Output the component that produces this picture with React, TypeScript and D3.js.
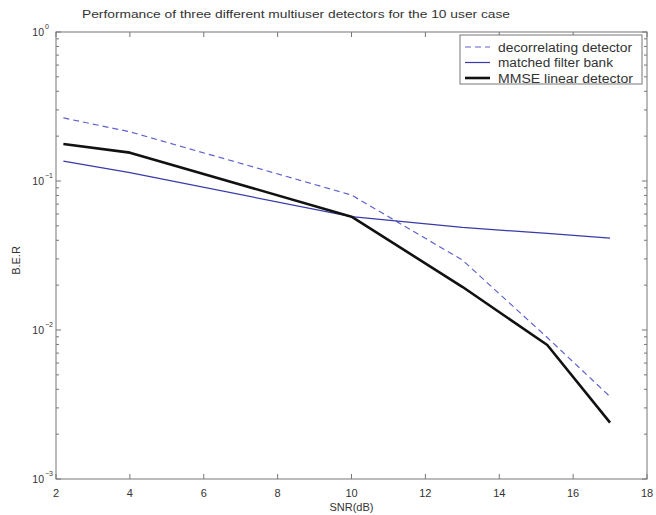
import React from "react";
import * as d3 from "d3";

const snr = [2.2, 4, 10, 13, 15.3, 17];
const decorrelating = [0.265, 0.214, 0.0805, 0.0295, 0.0089, 0.00357];
const matchedFilter = [0.136, 0.1137, 0.0576, 0.0488, 0.0445, 0.0414];
const mmse = [0.177, 0.155, 0.0576, 0.0195, 0.00793, 0.00239];
const xTicks = [2, 4, 6, 8, 10, 12, 14, 16, 18];
const yDecades = [0, -1, -2, -3];
const legendLabels = ["decorrelating detector", "matched filter bank", "MMSE linear detector"];
const legendWidths = [134, 115, 135];

const W = 656, H = 515;
const L = 56, R = 647, T = 32, B = 479;

export default function App() {
  const x = d3.scaleLinear().domain([2, 18]).range([L, R]);
  const y = d3.scaleLog().domain([1e-3, 1]).range([B, T]);
  const line = d3.line<number>().x((_, i) => x(snr[i])).y((v) => y(v));
  const font = "Liberation Sans, Arial, Helvetica, sans-serif";
  const axisColor = "#777";
  const textColor = "#333";

  const minor: number[] = [];
  for (let e = -3; e < 0; e++) for (let m = 2; m <= 9; m++) minor.push(m * Math.pow(10, e));

  const series = [
    { data: decorrelating, color: "#6060cc", width: 1.2, dash: "6,4" },
    { data: matchedFilter, color: "#3a3aa8", width: 1.2, dash: "" },
    { data: mmse, color: "#111", width: 2.6, dash: "" },
  ];

  return (
    <svg width={W} height={H} style={{ position: "absolute", left: 0, top: 0, background: "#fff" }}>
      <rect x={0} y={0} width={W} height={H} fill="#fff" />
      <text x={296} y={18} textAnchor="middle" fontFamily={font} fontSize={11.5} fill={textColor} textLength={428} lengthAdjust="spacingAndGlyphs">
        Performance of three different multiuser detectors for the 10 user case
      </text>
      <rect x={L} y={T} width={R - L} height={B - T} fill="none" stroke={axisColor} strokeWidth={1} />
      {xTicks.map((t) => (
        <g key={"x" + t}>
          <line x1={x(t)} x2={x(t)} y1={B} y2={B - 5} stroke={axisColor} />
          <line x1={x(t)} x2={x(t)} y1={T} y2={T + 5} stroke={axisColor} />
          <text x={x(t)} y={497} textAnchor="middle" fontFamily={font} fontSize={11} fill={textColor}>{t}</text>
        </g>
      ))}
      {yDecades.map((e) => (
        <g key={"y" + e}>
          <line x1={L} x2={L + 5} y1={y(Math.pow(10, e))} y2={y(Math.pow(10, e))} stroke={axisColor} />
          <line x1={R} x2={R - 5} y1={y(Math.pow(10, e))} y2={y(Math.pow(10, e))} stroke={axisColor} />
          <text x={44} y={y(Math.pow(10, e)) + 4} textAnchor="end" fontFamily={font} fontSize={10.5} fill={textColor}>10</text>
          <text x={45} y={y(Math.pow(10, e)) - 3} fontFamily={font} fontSize={7} fill={textColor}>{e === 0 ? "0" : "\u2212" + -e}</text>
        </g>
      ))}
      {minor.map((v, i) => (
        <g key={"m" + i}>
          <line x1={L} x2={L + 3} y1={y(v)} y2={y(v)} stroke={axisColor} />
          <line x1={R} x2={R - 3} y1={y(v)} y2={y(v)} stroke={axisColor} />
        </g>
      ))}
      <text transform={`translate(20,${(T + B) / 2 + 5}) rotate(-90)`} textAnchor="middle" fontFamily={font} fontSize={11} fill={textColor}>B.E.R</text>
      <text x={(L + R) / 2} y={511} textAnchor="middle" fontFamily={font} fontSize={11} fill={textColor}>SNR(dB)</text>
      {series.map((s, i) => (
        <path key={"s" + i} d={line(s.data) || ""} fill="none" stroke={s.color} strokeWidth={s.width} strokeDasharray={s.dash} strokeLinejoin="round" />
      ))}
      <rect x={460} y={35} width={182} height={49} fill="#fff" stroke={axisColor} strokeWidth={1} />
      {legendLabels.map((lab, i) => (
        <g key={"l" + i}>
          <line x1={465} x2={490} y1={47 + i * 15.5} y2={47 + i * 15.5} stroke={series[i].color} strokeWidth={series[i].width} strokeDasharray={series[i].dash} />
          <text x={498} y={51.5 + i * 15.5} fontFamily={font} fontSize={12} fill={textColor} textLength={legendWidths[i]} lengthAdjust="spacingAndGlyphs">{lab}</text>
        </g>
      ))}
    </svg>
  );
}
